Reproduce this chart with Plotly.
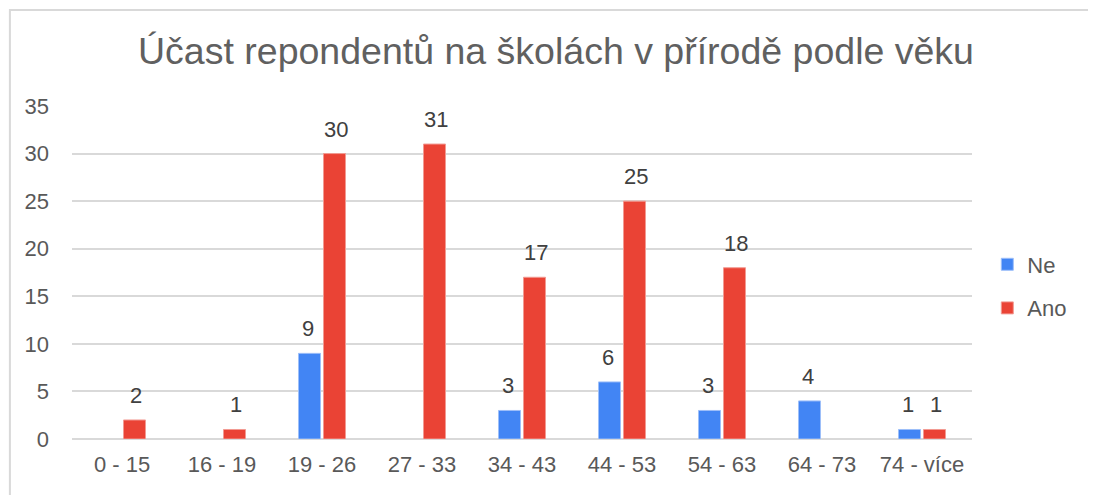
import plotly.graph_objects as go

categories = ["0 - 15", "16 - 19", "19 - 26", "27 - 33", "34 - 43", "44 - 53", "54 - 63", "64 - 73", "74 - více"]
ne_values = [None, None, 9, None, 3, 6, 3, 4, 1]
ano_values = [2, 1, 30, 31, 17, 25, 18, None, 1]

font_family = "Liberation Sans, Arial, sans-serif"
small = 22

fig = go.Figure()
fig.add_trace(go.Bar(
    name="Ne", x=categories, y=ne_values,
    marker=dict(color="#4285F4", line=dict(color="#9dbff9", width=1)),
    legendgroup="ne",
))
fig.add_trace(go.Bar(
    name="Ano", x=categories, y=ano_values,
    marker=dict(color="#EA4335", line=dict(color="#f29a92", width=1)),
    legendgroup="ano",
))

# data labels above each bar, tied to the data via axis coordinates
for series, shift in ((ne_values, -14), (ano_values, 14)):
    for cat, v in zip(categories, series):
        if v is None:
            continue
        fig.add_annotation(x=cat, y=v, xref="x", yref="y", text=str(v),
                           showarrow=False, xshift=shift, yshift=10, yanchor="bottom",
                           font=dict(size=small, color="#404040", family=font_family))

fig.update_layout(
    width=1096, height=495,
    margin=dict(l=64, r=132, t=98, b=64),
    paper_bgcolor="white", plot_bgcolor="white",
    barmode="group", bargap=0.5, bargroupgap=0.12,
    font=dict(family=font_family, color="#595959", size=small),
    title=dict(text="Účast repondentů na školách v přírodě podle věku",
               x=0.5, xanchor="center", y=0.913, yanchor="middle",
               font=dict(size=37.5, color="#606060", family=font_family)),
    legend=dict(x=1.017, xanchor="left", y=0.458, yanchor="middle",
                traceorder="grouped", tracegroupgap=12,
                font=dict(size=small, color="#595959")),
    showlegend=True,
)
fig.update_xaxes(showgrid=False, showline=False, ticks="", ticklabelstandoff=10,
                 tickfont=dict(size=small, color="#595959"))
fig.update_yaxes(range=[0, 35], dtick=5, showgrid=True, gridcolor="#d9d9d9", gridwidth=1.5,
                 zeroline=True, zerolinecolor="#d9d9d9", zerolinewidth=1.5,
                 ticks="", ticklabelstandoff=22, tickfont=dict(size=small, color="#595959"))

fig.add_shape(type="rect", xref="paper", yref="paper",
              x0=-0.069, x1=1.3, y0=-0.4, y1=1.288,
              line=dict(color="#d9d9d9", width=2), fillcolor="rgba(0,0,0,0)", layer="below")

fig.write_html("out.html")
